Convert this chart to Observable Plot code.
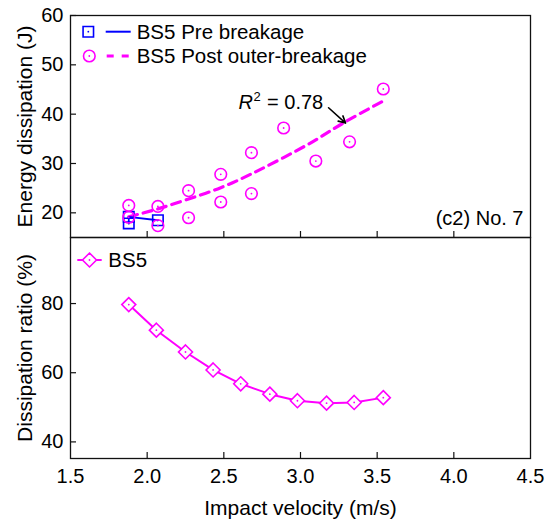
<!DOCTYPE html>
<html>
<head>
<meta charset="utf-8">
<script src="https://cdn.jsdelivr.net/npm/d3@7"></script>
<script src="https://cdn.jsdelivr.net/npm/@observablehq/plot@0.6"></script>
<style>
html, body { margin: 0; padding: 0; background: #fff; }
#chart { position: relative; width: 549px; height: 522px; overflow: hidden; }
#chart svg { position: absolute; left: 0; overflow: visible; }
</style>
</head>
<body>
<div id="chart"></div>
<script>
// ---- data ----
const xTicks = [1.5, 2.0, 2.5, 3.0, 3.5, 4.0, 4.5];
const xTickLabels = ["1.5", "2.0", "2.5", "3.0", "3.5", "4.0", "4.5"];
const energyTicks = [20, 30, 40, 50, 60];
const ratioTicks = [40, 60, 80];

const preV = [1.88, 1.88, 2.07];
const preE = [17.85, 19.2, 18.5];

const postV = [1.88, 1.88, 2.07, 2.07, 2.27, 2.27, 2.48, 2.48, 2.68, 2.68, 2.89, 3.10, 3.32, 3.54];
const postE = [21.5, 19.1, 21.3, 17.4, 24.5, 19.0, 27.8, 22.2, 32.2, 23.9, 37.2, 30.5, 34.4, 45.1];

const fitV = [1.88, 2.07, 2.27, 2.48, 2.68, 2.89, 3.10, 3.29, 3.53];
const fitE = [19.2, 20.8, 22.8, 25.1, 27.9, 31.2, 34.8, 38.4, 42.5];

const ratioV = [1.88, 2.06, 2.25, 2.43, 2.61, 2.80, 2.98, 3.17, 3.35, 3.54];
const ratioPct = [79.7, 72.3, 66.0, 60.8, 56.8, 53.8, 51.9, 51.2, 51.4, 52.8];

const r2V = [2.596];
const r2E = [42.3];
const arrowFrom = [3.183, 41.3];
const arrowTo = [3.294, 38.2];

const legendTop = ["BS5 Pre breakage", "BS5 Post outer-breakage"];
const legendBottom = ["BS5"];
const titles = {
  energy: "Energy dissipation (J)",
  ratio: "Dissipation ratio (%)",
  x: "Impact velocity (m/s)",
  panel: "(c2) No. 7",
  r2: "= 0.78"
};

// ---- tables ----
const pre = preV.map((v, i) => ({v, e: preE[i]}));
const post = postV.map((v, i) => ({v, e: postE[i]}));
const fit = fitV.map((v, i) => ({v, e: fitE[i]}));
const ratio = ratioV.map((v, i) => ({v, p: ratioPct[i]}));
const r2 = r2V.map((v, i) => ({v, e: r2E[i]}));
const arrows = [{x1: arrowFrom[0], y1: arrowFrom[1], x2: arrowTo[0], y2: arrowTo[1]}];

const FONT = '"Liberation Sans", Arial, Helvetica, sans-serif';
const MAG = "#ff00ff", BLUE = "#0000ff";
const FRAME = {stroke: "#111", strokeWidth: 1.3};
const base = {
  width: 549, marginLeft: 70, marginRight: 19,
  style: {fontFamily: FONT, fontSize: "20px", color: "#000", background: "none", overflow: "visible"}
};
const fmtX = (d) => xTickLabels[xTicks.indexOf(d)];

const topPlot = Plot.plot({
  ...base, height: 238, marginTop: 15, marginBottom: 1,
  x: {domain: [1.5, 4.5], label: null},
  y: {domain: [15, 60], label: null},
  marks: [
    Plot.axisX({ticks: xTicks.slice(1, -1), tickSize: 6, dy: -6, fill: "none", stroke: "#111", strokeWidth: 1.2}),
    Plot.axisY({ticks: energyTicks, tickSize: 6, dx: 6, fill: "none", stroke: "#111", strokeWidth: 1.2}),
    Plot.axisY({ticks: energyTicks, tickSize: 0, tickPadding: 7, fontSize: 20}),
    Plot.text([titles.energy], {frameAnchor: "left", textAnchor: "middle", lineAnchor: "middle", rotate: -90, dx: -45.5, text: d => d, fontSize: 21}),
    Plot.text([titles.panel], {frameAnchor: "bottom-right", textAnchor: "end", lineAnchor: "middle", dx: -7, dy: -19, text: d => d, fontSize: 20}),
    Plot.line(fit, {x: "v", y: "e", curve: "natural", stroke: MAG, strokeWidth: 3.2, strokeDasharray: "9,6"}),
    Plot.line(pre, {x: "v", y: "e", stroke: BLUE, strokeWidth: 1.8}),
    Plot.dot(pre, {x: "v", y: "e", symbol: "square", r: 5.9, stroke: BLUE, strokeWidth: 1.6, fill: "none"}),
    Plot.dot(pre, {x: "v", y: "e", r: 0.9, fill: BLUE}),
    Plot.dot(post, {x: "v", y: "e", r: 5.8, stroke: MAG, strokeWidth: 1.6, fill: "none"}),
    Plot.dot(post, {x: "v", y: "e", r: 0.9, fill: MAG}),
    Plot.text(r2, {x: "v", y: "e", text: () => "R", textAnchor: "start", fontStyle: "italic", fontSize: 20}),
    Plot.text(r2, {x: "v", y: "e", text: () => "2", textAnchor: "start", dx: 15, dy: -6, fontSize: 13}),
    Plot.text(r2, {x: "v", y: "e", text: () => titles.r2, textAnchor: "start", dx: 28.5, fontSize: 20}),
    Plot.arrow(arrows, {x1: "x1", y1: "y1", x2: "x2", y2: "y2", stroke: "#000", strokeWidth: 1.6, headLength: 11, headAngle: 55}),
    Plot.frame(FRAME)
  ]
});

const botPlot = Plot.plot({
  ...base, height: 285, marginTop: 0, marginBottom: 64,
  x: {domain: [1.5, 4.5], label: null},
  y: {domain: [35.2, 99.1], label: null},
  marks: [
    Plot.axisX({ticks: xTicks.slice(1, -1), tickSize: 6, dy: -6, fill: "none", stroke: "#111", strokeWidth: 1.2}),
    Plot.axisX({ticks: xTicks, tickSize: 0, tickPadding: 10, tickFormat: fmtX, fontSize: 20}),
    Plot.axisY({ticks: ratioTicks, tickSize: 6, dx: 6, fill: "none", stroke: "#111", strokeWidth: 1.2}),
    Plot.axisY({ticks: ratioTicks, tickSize: 0, tickPadding: 7, fontSize: 20}),
    Plot.text([titles.ratio], {frameAnchor: "left", textAnchor: "middle", lineAnchor: "middle", rotate: -90, dx: -45.5, text: d => d, fontSize: 21}),
    Plot.text([titles.x], {frameAnchor: "bottom", textAnchor: "middle", lineAnchor: "middle", dy: 50, text: d => d, fontSize: 21}),
    Plot.line(ratio, {x: "v", y: "p", stroke: MAG, strokeWidth: 2}),
    Plot.dot(ratio, {x: "v", y: "p", symbol: d3.symbolDiamond2, r: 6.3, stroke: MAG, strokeWidth: 1.6, fill: "white"}),
    Plot.dot(ratio, {x: "v", y: "p", r: 0.9, fill: MAG}),
    Plot.frame(FRAME)
  ]
});

const chart = document.getElementById("chart");
topPlot.style.top = "0px";
botPlot.style.top = "237px";
chart.appendChild(botPlot);
chart.appendChild(topPlot);

// ---- legends (overlay) ----
const leg = d3.create("svg")
  .attr("width", 549).attr("height", 522)
  .style("top", "0px")
  .style("font-family", FONT).style("font-size", "20.5px");

function marker(g, sym, size, color, x, y, fill) {
  g.append("path").attr("d", d3.symbol(sym, size)()).attr("transform", `translate(${x},${y})`)
    .attr("fill", fill).attr("stroke", color).attr("stroke-width", 1.6);
  g.append("circle").attr("cx", x).attr("cy", y).attr("r", 0.9).attr("fill", color);
}
// row 1
leg.append("line").attr("x1", 105.7).attr("x2", 130.7).attr("y1", 31.7).attr("y2", 31.7)
  .attr("stroke", BLUE).attr("stroke-width", 2);
marker(leg, d3.symbolSquare, Math.PI * 5.9 * 5.9, BLUE, 88.3, 31.7, "none");
leg.append("text").attr("x", 136.7).attr("y", 38.9).text(legendTop[0]);
// row 2
leg.append("line").attr("x1", 106.7).attr("x2", 129.5).attr("y1", 56).attr("y2", 56)
  .attr("stroke", MAG).attr("stroke-width", 3.2).attr("stroke-dasharray", "7,8");
leg.append("circle").attr("cx", 89.3).attr("cy", 56).attr("r", 5.8).attr("fill", "none").attr("stroke", MAG).attr("stroke-width", 1.6);
leg.append("circle").attr("cx", 89.3).attr("cy", 56).attr("r", 0.9).attr("fill", MAG);
leg.append("text").attr("x", 136.7).attr("y", 63.2).text(legendTop[1]);
// bottom panel
leg.append("line").attr("x1", 77.3).attr("x2", 101.7).attr("y1", 260).attr("y2", 260)
  .attr("stroke", MAG).attr("stroke-width", 2);
marker(leg, d3.symbolDiamond2, Math.PI * 6.3 * 6.3, MAG, 89.5, 260, "white");
leg.append("text").attr("x", 108.3).attr("y", 267.2).text(legendBottom[0]);

chart.appendChild(leg.node());
</script>
</body>
</html>
